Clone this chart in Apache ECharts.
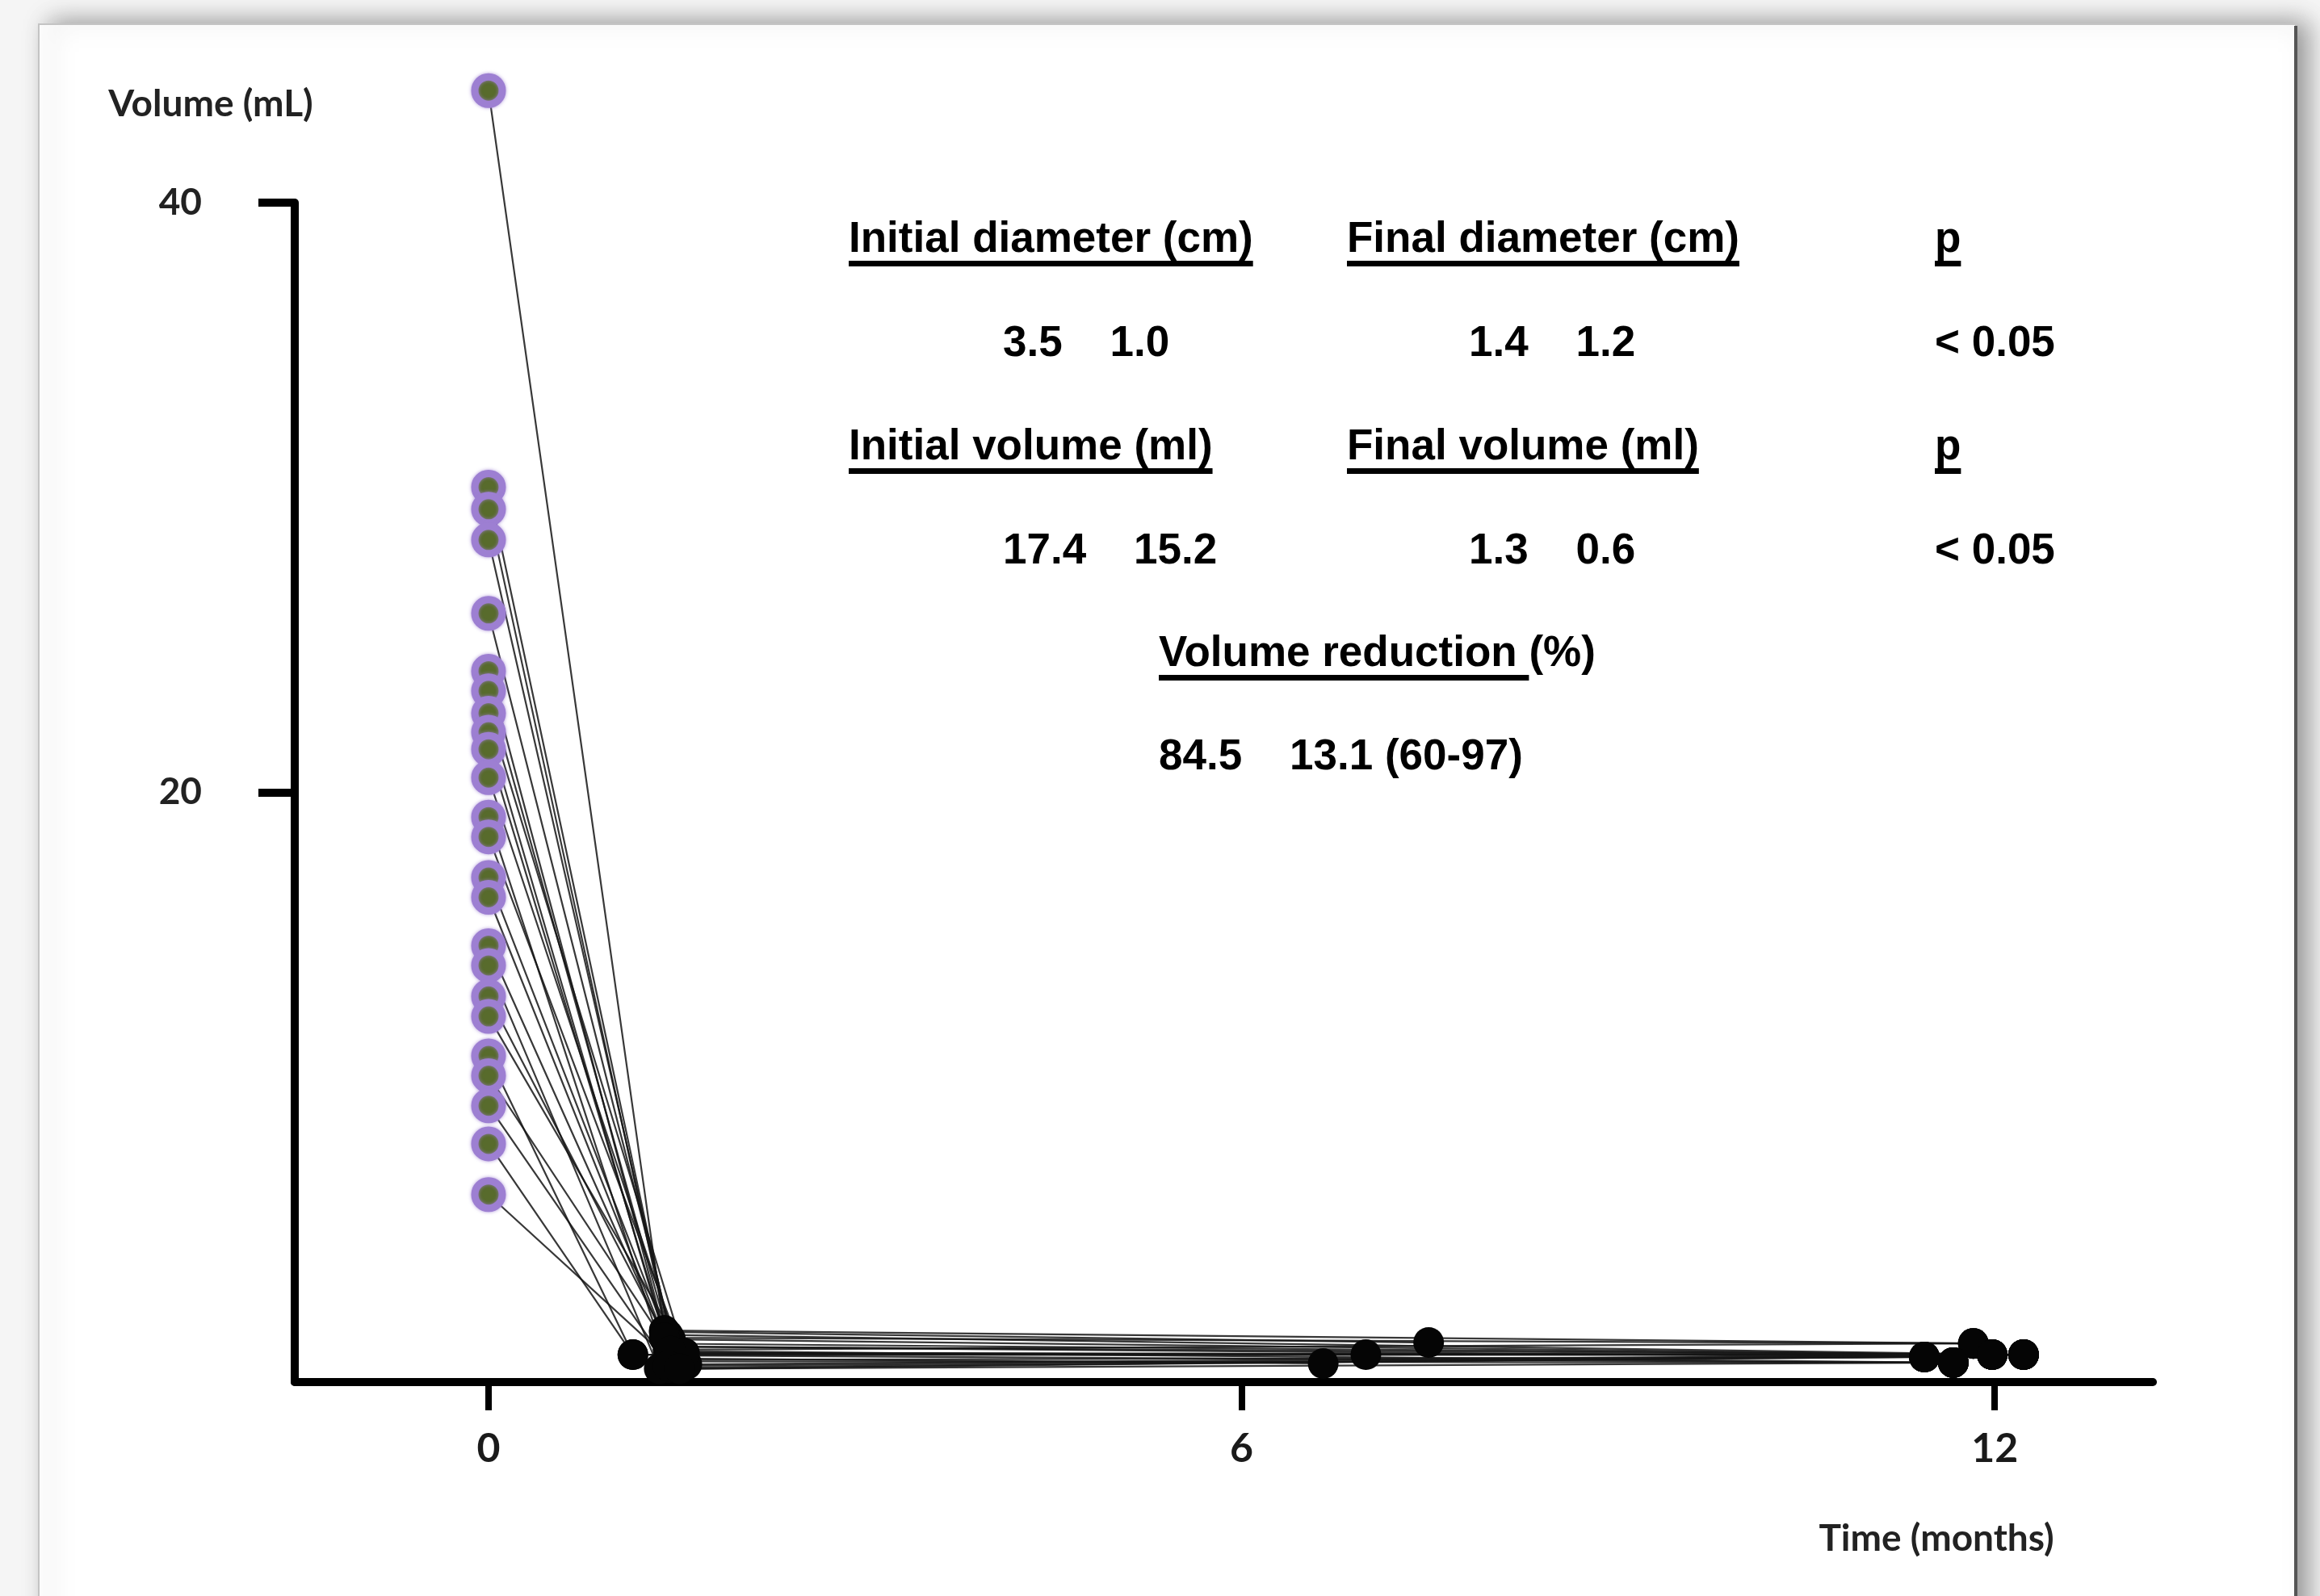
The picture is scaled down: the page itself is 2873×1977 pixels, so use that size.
<!DOCTYPE html>
<html>
<head>
<meta charset="utf-8">
<script src="https://cdn.jsdelivr.net/npm/echarts@6.0.0/dist/echarts.min.js"></script>
<style>
  html, body { margin: 0; padding: 0; background: #f5f5f5; }
  #chart { width: 2873px; height: 1977px; }
</style>
</head>
<body>
<div id="chart"></div>
<script>
// volume (mL) of each nodule at baseline, first control and last control
var initialVolume = [43.8, 30.35, 29.6, 28.56, 26.07, 24.11, 23.44, 22.68, 22.04, 21.46, 20.5, 19.16,
    18.49, 17.11, 16.44, 14.8, 14.13, 13.08, 12.4, 11.06, 10.39, 9.37, 8.08, 6.36]
var firstMonth = [1.40, 1.45, 1.43, 1.47, 1.50, 1.40, 1.45, 1.56, 1.43, 1.47, 1.52, 1.43,
    1.58, 1.45, 1.40, 1.47, 1.36, 1.50, 1.56, 1.15, 1.45, 1.43, 1.15, 1.52]
var firstVolume = [1.75, 1.45, 1.6, 1.2, 0.9, 1.7, 1.3, 0.98, 1.1, 0.7, 1.0, 0.49,
    0.6, 1.2, 1.5, 0.8, 0.45, 0.75, 0.98, 0.93, 1.05, 0.55, 0.93, 0.45]
var lastMonth = [11.83, 11.98, 12.23, 11.44, 11.67, 7.49, 11.98, 12.23, 11.83, 11.67, 6.99, 11.44,
    12.23, 11.98, 11.83, 6.65, 11.67, 11.44, 12.23, 11.98, 11.67, 11.44, 11.98, 12.23]
var lastVolume = [1.31, 0.93, 0.93, 0.85, 0.66, 1.34, 0.93, 0.93, 1.31, 0.66, 0.93, 0.85,
    0.93, 0.93, 1.31, 0.63, 0.66, 0.85, 0.93, 0.93, 0.66, 0.85, 0.93, 0.93]
var xTicks = [0, 6, 12]
var yTicks = [20, 40]

// summary table
var diameterHeaders = ["Initial diameter (cm)", "Final diameter (cm)", "p"]
var diameterValues = ["3.5    1.0", "1.4    1.2", "< 0.05"]
var volumeHeaders = ["Initial volume (ml)", "Final volume (ml)", "p"]
var volumeValues = ["17.4    15.2", "1.3    0.6", "< 0.05"]
var reductionHeader = "Volume reduction "
var reductionUnit = "(%)"
var reductionValue = "84.5    13.1 (60-97)"

var TABLE_FONT = "bold 53px 'Liberation Sans', Arial, sans-serif"
var measure = document.createElement("canvas").getContext("2d")
function textWidth(str) { measure.font = TABLE_FONT; return measure.measureText(str).width }

var headX = [1051, 1668, 2396], valueX = [1242, 1819, 2396]
var graphic = []
function text(str, x, y, underline) {
    graphic.push({type: "text", x: x, y: y, z: 20, silent: true, style: {text: str, fill: "#000",
        font: TABLE_FONT, align: "left", verticalAlign: "middle"}})
    if (underline) graphic.push({type: "rect", z: 20, silent: true, shape: {x: x, y: y + 26, width: textWidth(str), height: 7}, style: {fill: "#000"}})
}
diameterHeaders.forEach(function(s, i) { text(s, headX[i], 297, true) })
diameterValues.forEach(function(s, i) { text(s, valueX[i], 426) })
volumeHeaders.forEach(function(s, i) { text(s, headX[i], 554, true) })
volumeValues.forEach(function(s, i) { text(s, valueX[i], 683) })
text(reductionHeader, 1435, 810, true)
text(reductionUnit, 1435 + textWidth(reductionHeader), 810)
text(reductionValue, 1435, 938)

// paper sheet
graphic.push({type: "rect", z: -10, silent: true, shape: {x: 48, y: 30, width: 2795, height: 2000},
    style: {fill: "#fff", stroke: "#c4c4c4", lineWidth: 2, shadowBlur: 30, shadowColor: "rgba(0,0,0,0.4)", shadowOffsetX: 14, shadowOffsetY: -2}})
graphic.push({type: "line", z: -9, silent: true, shape: {x1: 2843, y1: 32, x2: 2843, y2: 1977}, style: {stroke: "#555", lineWidth: 4}})
// axis names
var AXIS_FONT = "bold 46px Lato, 'Open Sans', sans-serif"
graphic.push({type: "text", x: 261, y: 129, z: 20, silent: true, style: {text: "Volume (mL)", fill: "#222", font: AXIS_FONT, align: "center", verticalAlign: "middle"}})
graphic.push({type: "text", x: 2398, y: 1906, z: 20, silent: true, style: {text: "Time (months)", fill: "#222", font: AXIS_FONT, align: "center", verticalAlign: "middle"}})

var lineSeries = initialVolume.map(function(v, i) {
    return {type: "line", data: [[0, v], [firstMonth[i], firstVolume[i]], [lastMonth[i], lastVolume[i]]],
        symbol: "none", showSymbol: false, clip: false, silent: true, z: 2,
        lineStyle: {color: "#151515", width: 2.2, opacity: 0.85}}
})
var followUp = firstMonth.map(function(t, i) { return [t, firstVolume[i]] })
    .concat(lastMonth.map(function(t, i) { return [t, lastVolume[i]] }))
var baseline = initialVolume.map(function(v) { return [0, v] })

var chart = echarts.init(document.getElementById("chart"))
chart.setOption({
    backgroundColor: "#f5f5f5",
    animation: false,
    grid: {left: 365, right: 207, top: 251, bottom: 265, containLabel: false, outerBoundsMode: "none"},
    xAxis: {type: "value", min: -1.544, max: 13.26, splitLine: {show: false},
        axisLine: {onZero: false, lineStyle: {color: "#000", width: 10}},
        axisTick: {customValues: xTicks, length: 35, lineStyle: {color: "#000", width: 8}},
        axisLabel: {customValues: xTicks, margin: 58, color: "#1a1a1a", fontSize: 50, fontWeight: "bold", fontFamily: "Lato"}},
    yAxis: {type: "value", min: 0, max: 40, splitLine: {show: false},
        axisLine: {show: true, onZero: false, lineStyle: {color: "#000", width: 10}},
        axisTick: {show: true, customValues: yTicks, length: 45, lineStyle: {color: "#000", width: 10}},
        axisLabel: {customValues: yTicks, margin: 115, color: "#222", fontSize: 46, fontWeight: "bold", fontFamily: "Lato"}},
    series: lineSeries.concat([
        {type: "scatter", data: followUp, symbolSize: 38, clip: false, silent: true, z: 3,
            itemStyle: {color: "#050505", opacity: 1}},
        {type: "scatter", data: baseline, symbolSize: 34, clip: false, silent: true, z: 4,
            itemStyle: {color: "#586b2c", borderColor: "#9d7fd2", borderWidth: 9, opacity: 1,
                shadowBlur: 4, shadowColor: "rgba(157,127,210,0.8)"}}
    ]),
    graphic: graphic
})
</script>
</body>
</html>
